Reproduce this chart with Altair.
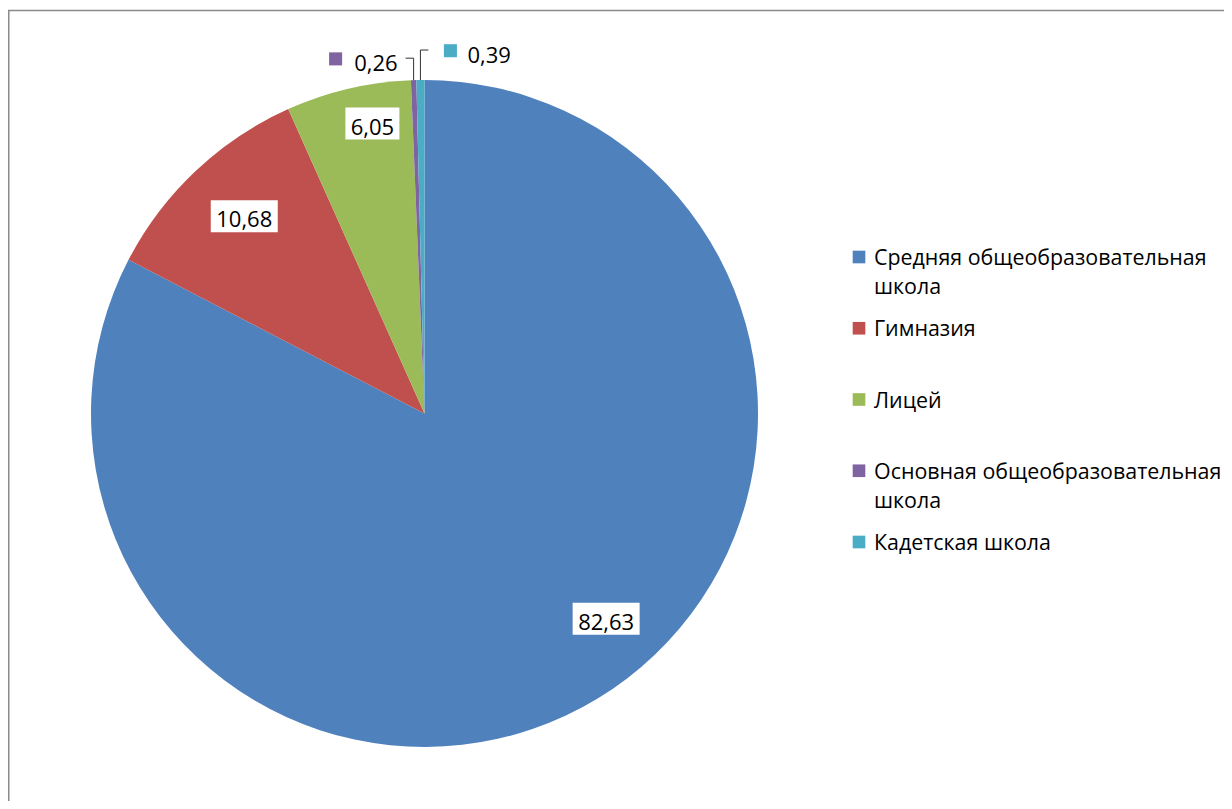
import altair as alt
import pandas as pd

# ---- data ----
categories = [
    "Средняя общеобразовательная школа",
    "Гимназия",
    "Лицей",
    "Основная общеобразовательная школа",
    "Кадетская школа",
]
values = [82.63, 10.68, 6.05, 0.26, 0.39]
value_labels = ["82,63", "10,68", "6,05", "0,26", "0,39"]
legend_labels = [
    "Средняя общеобразовательная\nшкола",
    "Гимназия",
    "Лицей",
    "Основная общеобразовательная\nшкола",
    "Кадетская школа",
]
colors = ["#4F81BD", "#C0504D", "#9BBB59", "#8064A2", "#4BACC6"]

# ---- layout (pixels, chart coordinates) ----
W, H = 1216, 793
CX, CY, R = 416.5, 405.5, 333.5
RL = 267  # radius for inside labels
label_kind = ["in", "in", "in", "out", "out"]
label_ndx = [43, 3, 9, 0, 0]
label_ndy = [-23, -3, -30, 0, 0]
label_side = [0, 0, 0, -1, 1]
label_elbow = [0, 0, 0, 22, 30]
FONT = "Open Sans"
FS = 22
LFS = 21.4

src = pd.DataFrame({
    "idx": list(range(len(categories))),
    "category": categories,
    "value": values,
    "label": value_labels,
    "legend": legend_labels,
    "kind": label_kind,
    "ndx": label_ndx,
    "ndy": label_ndy,
    "side": label_side,
    "elbow": label_elbow,
})

base = alt.Chart(src)

color = alt.Color("category:N", scale=alt.Scale(domain=categories, range=colors), legend=None)

geo = base.transform_window(
    cum="sum(value)", sort=[alt.SortField("idx", order="ascending")]
).transform_joinaggregate(
    total="sum(value)"
).transform_calculate(
    mid="2*PI*(datum.cum - datum.value/2)/datum.total",
    ex=f"{CX} + {R}*sin(datum.mid)",
    ey=f"{CY} - {R}*cos(datum.mid)",
    lx=f"{CX} + {RL}*sin(datum.mid) + datum.ndx",
    ly=f"{CY} - {RL}*cos(datum.mid) + datum.ndy",
    bw="13*length(datum.label) + 2",
    bx1="datum.lx - datum.bw/2",
    bx2="datum.lx + datum.bw/2",
    by1="datum.ly - 16",
    by2="datum.ly + 16",
    ky="datum.ey - datum.elbow",
    kx2="datum.ex + datum.side*8",
    sqx="datum.side < 0 ? datum.ex - 78 : datum.ex + 30",
    sqy="datum.ky + 0.7",
    tx="datum.side < 0 ? datum.ex - 16 : datum.ex + 47",
    ty="datum.ky + 2.5",
)

def px(f):
    return alt.X(f"{f}:Q", scale=None, axis=None)

def py(f):
    return alt.Y(f"{f}:Q", scale=None, axis=None)

pie = base.mark_arc(outerRadius=R).encode(
    theta=alt.Theta("value:Q", stack=True),
    color=color,
    order=alt.Order("idx:Q"),
    x=alt.value(CX),
    y=alt.value(CY),
)

inside = geo.transform_filter("datum.kind == 'in'")
boxes = inside.mark_rect(fill="white").encode(
    x=px("bx1"), x2="bx2:Q", y=py("by1"), y2="by2:Q"
)
in_text = inside.mark_text(
    font=FONT, fontSize=FS, color="black", align="center", baseline="middle", dy=4
).encode(x=px("lx"), y=py("ly"), text="label:N")

outside = geo.transform_filter("datum.kind == 'out'")
lead1 = outside.mark_rule(color="#333333", strokeWidth=1).encode(
    x=px("ex"), x2="ex:Q", y=py("ey"), y2="ky:Q"
)
lead2 = outside.mark_rule(color="#333333", strokeWidth=1).encode(
    x=px("ex"), x2="kx2:Q", y=py("ky"), y2="ky:Q"
)
out_sq = outside.mark_square(size=170, opacity=1).encode(
    x=px("sqx"), y=py("sqy"), color=color
)
out_left = outside.transform_filter("datum.side < 0").mark_text(
    font=FONT, fontSize=FS, color="black", align="right", baseline="middle", dy=3
).encode(x=px("tx"), y=py("ty"), text="label:N")
out_right = outside.transform_filter("datum.side > 0").mark_text(
    font=FONT, fontSize=FS, color="black", align="left", baseline="middle", dy=3
).encode(x=px("tx"), y=py("ty"), text="label:N")

# ---- legend ----
leg = base.transform_calculate(
    gy="249 + datum.idx*71.25",
    gsx="851",
    gtx="866",
)
leg_sq = leg.mark_square(size=160, opacity=1).encode(
    x=px("gsx"), y=py("gy"), color=color
)
leg_tx = leg.mark_text(
    font=FONT, fontSize=LFS, color="black", align="left", baseline="middle",
    dy=2, lineBreak="\n", lineHeight=29,
).encode(x=px("gtx"), y=py("gy"), text="legend:N")

# ---- frame ----
one = alt.Chart(pd.DataFrame({"a": [0]}))
frame_left = one.mark_rule(color="#8a8a8a", strokeWidth=1.5).encode(
    x=alt.value(0.75), y=alt.value(2.5), y2=alt.value(H)
)
frame_top = one.mark_rule(color="#8a8a8a", strokeWidth=1.5).encode(
    x=alt.value(0), x2=alt.value(W), y=alt.value(2.5)
)

chart = alt.layer(
    frame_left, frame_top, pie, boxes, in_text, lead1, lead2, out_sq,
    out_left, out_right, leg_sq, leg_tx,
).properties(
    width=W, height=H, padding=0, autosize="none", background="white"
).configure_view(stroke=None)

chart.save("out.html", embed_options={"renderer": "svg", "actions": False})
